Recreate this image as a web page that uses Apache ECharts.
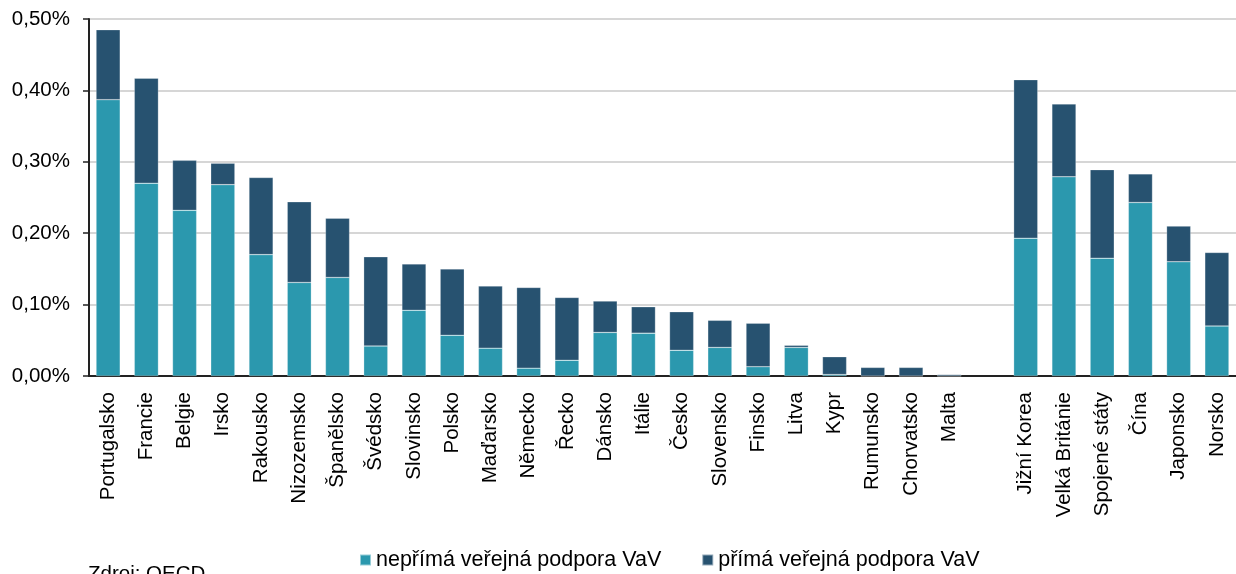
<!DOCTYPE html>
<html>
<head>
<meta charset="utf-8">
<script src="https://cdn.jsdelivr.net/npm/echarts@6/dist/echarts.min.js"></script>
<style>
  html, body { margin: 0; padding: 0; background: #fff; }
  #chart { width: 1236px; height: 574px; }
</style>
</head>
<body>
<div id="chart"></div>
<script>
  // zeme (prazdna polozka = mezera mezi EU a ostatnimi)
  var categories = ['Portugalsko', 'Francie', 'Belgie', 'Irsko', 'Rakousko', 'Nizozemsko', 'Španělsko',
    'Švédsko', 'Slovinsko', 'Polsko', 'Maďarsko', 'Německo', 'Řecko', 'Dánsko', 'Itálie', 'Česko',
    'Slovensko', 'Finsko', 'Litva', 'Kypr', 'Rumunsko', 'Chorvatsko', 'Malta', '',
    'Jižní Korea', 'Velká Británie', 'Spojené státy', 'Čína', 'Japonsko', 'Norsko']

  // neprima verejna podpora VaV (% HDP)
  var indirect = [0.387, 0.270, 0.232, 0.268, 0.170, 0.131, 0.138, 0.042, 0.092, 0.057, 0.039, 0.011,
    0.022, 0.061, 0.060, 0.036, 0.040, 0.013, 0.040, 0.002, 0, 0, 0, null,
    0.193, 0.279, 0.165, 0.243, 0.160, 0.070]

  // prima verejna podpora VaV (% HDP)
  var direct = [0.098, 0.147, 0.070, 0.030, 0.108, 0.113, 0.083, 0.125, 0.065, 0.093, 0.087, 0.113,
    0.088, 0.044, 0.037, 0.054, 0.038, 0.061, 0.003, 0.025, 0.012, 0.012, 0.002, null,
    0.222, 0.102, 0.124, 0.040, 0.050, 0.103]

  var yTicks = [0, 0.1, 0.2, 0.3, 0.4, 0.5]

  var font = 'Liberation Sans, Arial, sans-serif'

  var myChart = echarts.init(document.getElementById('chart'))
  var option = {
    backgroundColor: '#fff',
    animation: false,
    color: ['#2b98ae', '#275270'],
    textStyle: { fontFamily: font },
    grid: {
      left: 89,
      right: 0,
      top: 19,
      bottom: 198
    },
    legend: {
      left: 354,
      top: 544,
      itemWidth: 11,
      itemHeight: 11,
      itemGap: 40,
      icon: 'rect',
      textStyle: { fontSize: 21.5, color: '#000', fontFamily: font },
      data: ['nepřímá veřejná podpora VaV', 'přímá veřejná podpora VaV']
    },
    graphic: [{
      type: 'text',
      left: 88,
      top: 564,
      style: { text: 'Zdroj: OECD', fontSize: 20.5, fill: '#000', fontFamily: font }
    }],
    xAxis: {
      type: 'category',
      data: categories,
      axisLine: { lineStyle: { color: '#222', width: 2 } },
      axisTick: { show: false },
      axisLabel: {
        interval: 0,
        rotate: 90,
        fontSize: 20.5,
        color: '#000',
        margin: 16,
        fontFamily: font
      }
    },
    yAxis: {
      type: 'value',
      min: yTicks[0],
      max: yTicks[yTicks.length - 1],
      interval: 0.1,
      axisLine: { show: true, lineStyle: { color: '#222', width: 2 } },
      axisTick: { show: true, length: 6, lineStyle: { color: '#222', width: 1.5 } },
      splitLine: { lineStyle: { color: '#c8c8c8', width: 1.5 } },
      axisLabel: {
        fontSize: 20.5,
        color: '#000',
        margin: 19,
        fontFamily: font,
        formatter: function (v) { return v.toFixed(2).replace('.', ',') + '%' }
      }
    },
    series: [{
      name: 'nepřímá veřejná podpora VaV',
      type: 'bar',
      stack: 'vav',
      barWidth: '63%',
      itemStyle: { borderColor: 'rgba(255,255,255,0.5)', borderWidth: 0.5 },
      data: indirect
    }, {
      name: 'přímá veřejná podpora VaV',
      type: 'bar',
      stack: 'vav',
      barWidth: '63%',
      itemStyle: { borderColor: 'rgba(255,255,255,0.5)', borderWidth: 0.5 },
      data: direct
    }]
  }
  myChart.setOption(option)
  window.addEventListener('resize', function () {
    myChart.resize()
  })
</script>
</body>
</html>
